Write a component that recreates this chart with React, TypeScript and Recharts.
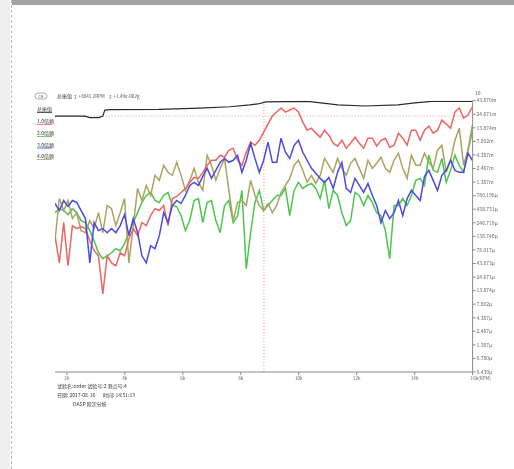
import { Line, LineChart, ReferenceLine, XAxis, YAxis } from "recharts";

// order-analysis run-up, amplitudes in μ (1000μ = 1m)
const rpm = [
  1590, 1740, 1890, 2040, 2190, 2340, 2490, 2640, 2790, 2940,
  3090, 3240, 3390, 3540, 3690, 3840, 3990, 4140, 4290, 4440,
  4590, 4740, 4890, 5040, 5190, 5340, 5490, 5640, 5790, 5940,
  6090, 6240, 6390, 6540, 6690, 6840, 6990, 7140, 7290, 7440,
  7590, 7740, 7890, 8040, 8190, 8340, 8490, 8640, 8790, 8940,
  9090, 9240, 9390, 9540, 9690, 9840, 9990, 10140, 10290, 10440,
  10590, 10740, 10890, 11040, 11190, 11340, 11490, 11640, 11790, 11940,
  12090, 12240, 12390, 12540, 12690, 12840, 12990, 13140, 13290, 13440,
  13590, 13740, 13890, 14040, 14190, 14340, 14490, 14640, 14790, 14940,
  15090, 15240, 15390, 15540, 15690, 15840, 15990,
];

const order1 = [
  143, 45, 249, 39.9, 219, 193, 210, 193, 115, 75.5,
  60.7, 12.1, 60.7, 45, 39.9, 69.1, 60.7, 126, 193, 143,
  249, 219, 334, 450, 415, 514, 219, 691, 755, 894,
  1061, 1369, 1694, 1623, 2099, 2828, 3503, 3503, 4339, 3985,
  5367, 5849, 3503, 2828, 4917, 7553, 6621, 8196, 11540, 16230,
  22850, 27090, 32140, 27090, 29500, 32140, 27090, 17680, 12570, 13690,
  11060, 9320, 12570, 10160, 7230, 6360, 8196, 5849, 7230, 9320,
  7230, 5849, 8935, 8935, 6360, 8196, 8935, 6074, 6621, 11060,
  8935, 6621, 12570, 12570, 8196, 12570, 14910, 11060, 12570, 19250,
  16230, 13690, 27090, 32140, 20990, 23850, 33560,
];

const order2 = [
  379, 450, 415, 350, 450, 379, 271, 249, 177, 115,
  69.1, 53.7, 60.7, 69.1, 82, 75.5, 102, 162, 249, 379,
  585, 787, 894, 636, 585, 787, 894, 514, 492, 334,
  177, 271, 636, 691, 249, 585, 636, 271, 162, 514,
  636, 249, 334, 974, 35, 162, 585, 974, 415, 514,
  636, 787, 787, 1061, 334, 974, 1369, 1061, 1205, 1311,
  1061, 691, 1491, 450, 974, 787, 379, 219, 271, 894,
  787, 514, 787, 585, 379, 334, 177, 53.7, 514, 514,
  691, 514, 787, 1491, 1623, 1205, 4339, 2285, 2099, 3793,
  1369, 2285, 4339, 2828, 2099, 5367, 11540,
];

const order3 = [
  559, 415, 636, 492, 636, 585, 415, 295, 45, 249,
  177, 193, 162, 193, 162, 219, 350, 143, 295, 162,
  60.7, 45, 93.2, 82, 143, 379, 249, 514, 636, 559,
  787, 1205, 1369, 1205, 1768, 2488, 1623, 2285, 3214, 3793,
  3214, 3503, 4339, 2099, 3503, 7230, 3793, 2099, 3503, 7553,
  3214, 3214, 8935, 4917, 3793, 6621, 8196, 4917, 3503, 2488,
  2012, 1623, 1369, 1694, 1061, 2099, 3214, 1061, 894, 1623,
  1205, 894, 1311, 787, 514, 249, 415, 295, 379, 636,
  334, 691, 974, 787, 636, 1768, 2285, 1491, 974, 1845,
  2285, 3503, 2285, 2099, 2099, 4725, 3503,
];

const order4 = [
  115, 691, 415, 636, 295, 379, 177, 162, 271, 193,
  379, 162, 514, 450, 219, 379, 691, 45, 219, 1061,
  636, 1205, 787, 1845, 1491, 2828, 2099, 1845, 3214, 1845,
  974, 1491, 2488, 1369, 974, 4339, 2828, 1491, 2488, 3793,
  974, 271, 585, 636, 514, 1491, 787, 514, 415, 559,
  379, 514, 894, 1205, 1623, 2828, 3503, 2285, 1369, 1845,
  1311, 1845, 3793, 2828, 2099, 3793, 2488, 1845, 3079, 3793,
  2488, 1623, 3503, 2488, 3079, 3985, 2488, 2099, 3503, 4725,
  2488, 1623, 4339, 2828, 2828, 4725, 3214, 2488, 5367, 6621,
  2099, 3503, 8196, 13690, 2828, 5367, 15560,
];

const totalRpm = [1590, 2620, 2790, 3100, 3240, 3310, 3480, 5170, 6590, 7620, 8310, 8590, 8870, 10320, 11350, 12280, 13420, 14010, 14590, 16000];
const totalAmp = [22850, 22850, 21440, 21440, 22850, 29500, 30100, 30400, 32140, 33970, 36600, 38200, 41660, 42580, 36600, 35040, 36600, 39900, 42580, 42580];

const yTicks = [43870, 24671, 13874, 7802, 4387, 2467, 1387, 780.198, 438.731, 246.719, 138.74, 78.017, 43.873, 24.671, 13.874, 7.802, 4.387, 2.467, 1.387, 0.78, 0.439];
const yTickLabels = ["43.870m", "24.671m", "13.874m", "7.802m", "4.387m", "2.467m", "1.387m", "780.198μ", "438.731μ", "246.719μ", "138.740μ", "78.017μ", "43.873μ", "24.671μ", "13.874μ", "7.802μ", "4.387μ", "2.467μ", "1.387μ", "0.780μ", "0.439μ"];
const xTicks = [2000, 4000, 6000, 8000, 10000, 12000, 14000, 16000];
const xTickLabels = ["2k", "4k", "6k", "8k", "10k", "12k", "14k", "16k(RPM)"];

const cursorRpm = 8800;
const cursorAmp = 22850;

const SERIES = [
  { key: "total", label: "总振值", color: "#2b2b2b" },
  { key: "o1", label: "1.0倍频", color: "#ef6464" },
  { key: "o2", label: "2.0倍频", color: "#4cc64c" },
  { key: "o3", label: "3.0倍频", color: "#4b4be0" },
  { key: "o4", label: "4.0倍频", color: "#aaa462" },
];

const FONT = "'Noto Sans CJK SC', 'DejaVu Sans', sans-serif";

function XTick({ x, y, payload }: any) {
  const i = xTicks.indexOf(payload.value);
  const last = i === xTicks.length - 1;
  return (
    <text x={last ? x - 2 : x} y={y + 2.5} fontSize={4.6} fill="#666" textAnchor={last ? "start" : "middle"} fontFamily={FONT}>
      {xTickLabels[i]}
    </text>
  );
}

export default function App() {
  const rows = rpm.map((r, i) => ({ rpm: r, o1: order1[i], o2: order2[i], o3: order3[i], o4: order4[i] }));
  const total = totalRpm.map((r, i) => ({ rpm: r, total: totalAmp[i] }));
  const legendY = [111, 123, 135, 146.5, 158];

  return (
    <div style={{ position: "absolute", left: 0, top: 0, width: 514, height: 469, background: "#fff", overflow: "hidden", filter: "blur(0.4px)" }}>
      <div style={{ position: "absolute", left: 0, top: 0, width: 10, height: 469, background: "#efefef" }} />
      <div style={{ position: "absolute", left: 11, top: 0, height: 469, borderLeft: "1px dashed #bbb" }} />
      <div style={{ position: "absolute", left: 12, top: 0, width: 502, height: 5, background: "#a2a2a2" }} />

      <div style={{ position: "absolute", left: 0, top: 0 }}>
        <LineChart width={514} height={469} data={rows} margin={{ top: 100.7, right: 1.4, bottom: 77, left: 55 }}>
          <XAxis
            dataKey="rpm"
            type="number"
            domain={[1590, 16000]}
            ticks={xTicks}
            tick={<XTick />}
            tickSize={3}
            height={20}
            axisLine={{ stroke: "#8a8a8a" }}
            tickLine={{ stroke: "#8a8a8a" }}
            allowDataOverflow
          />
          <YAxis
            yAxisId="left"
            orientation="left"
            mirror
            width={0}
            scale="log"
            domain={[0.439, 43870]}
            ticks={yTicks}
            tick={false}
            tickSize={2}
            axisLine={{ stroke: "#8a8a8a" }}
            tickLine={{ stroke: "#8a8a8a" }}
            allowDataOverflow
          />
          <YAxis
            yAxisId="right"
            orientation="right"
            width={40}
            scale="log"
            domain={[0.439, 43870]}
            ticks={yTicks}
            interval={0}
            tickFormatter={(v: number) => yTickLabels[yTicks.indexOf(v)] ?? ""}
            tick={{ fontSize: 5, fill: "#666", fontFamily: FONT }}
            tickSize={3}
            tickMargin={1}
            axisLine={{ stroke: "#8a8a8a" }}
            tickLine={{ stroke: "#8a8a8a" }}
            allowDataOverflow
          />
          <ReferenceLine yAxisId="right" y={cursorAmp} stroke="#f29a9a" strokeDasharray="1 2" />
          <ReferenceLine yAxisId="right" x={cursorRpm} stroke="#f29a9a" strokeDasharray="1 2" />
          <Line yAxisId="right" type="linear" dataKey="o2" stroke={SERIES[2].color} strokeWidth={1.5} dot={false} isAnimationActive={false} />
          <Line yAxisId="right" type="linear" dataKey="o4" stroke={SERIES[4].color} strokeWidth={1.5} dot={false} isAnimationActive={false} />
          <Line yAxisId="right" type="linear" dataKey="o1" stroke={SERIES[1].color} strokeWidth={1.5} dot={false} isAnimationActive={false} />
          <Line yAxisId="right" type="linear" dataKey="o3" stroke={SERIES[3].color} strokeWidth={1.5} dot={false} isAnimationActive={false} />
          <Line yAxisId="right" type="linear" data={total} dataKey="total" stroke={SERIES[0].color} strokeWidth={1.2} dot={false} isAnimationActive={false} />
        </LineChart>
      </div>

      <svg width={514} height={469} style={{ position: "absolute", left: 0, top: 0, pointerEvents: "none" }} fontFamily={FONT}>
        <rect x={35} y={93} width={12} height={6} rx={3} fill="none" stroke="#777" strokeWidth={0.6} />
        <text x={41} y={97.8} fontSize={3.6} fill="#444" textAnchor="middle">CH</text>
        <text x={57} y={98} fontSize={5} fill="#333">总振值</text>
        <text x={73} y={98} fontSize={4.6} fill="#555">↕ +8841.2RPM</text>
        <text x={108} y={98} fontSize={4.6} fill="#555">↕ +1.49e-002g</text>
        <text x={475} y={95} fontSize={5} fill="#555">10</text>
        {SERIES.map((s, i) => (
          <g key={s.key}>
            <text x={37} y={legendY[i]} fontSize={5} fill="#333">{s.label}</text>
            <line x1={37} x2={52} y1={legendY[i] + 1.5} y2={legendY[i] + 1.5} stroke={s.color} strokeWidth={0.8} />
          </g>
        ))}
        <text x={57} y={388} fontSize={5} fill="#333">试验名:order 试验号:2 测点号:4</text>
        <text x={57} y={397} fontSize={5} fill="#333">日期: 2017-08-16</text>
        <text x={103} y={397} fontSize={5} fill="#333">时间: 14:51:13</text>
        <text x={73} y={406} fontSize={5} fill="#333">DASP 阶次分析</text>
      </svg>
    </div>
  );
}
